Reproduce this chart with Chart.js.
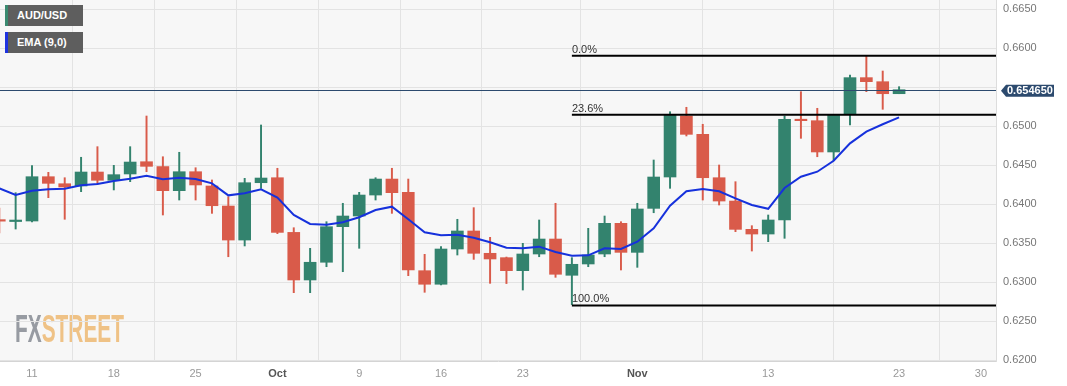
<!DOCTYPE html>
<html>
<head>
<meta charset="utf-8">
<script src="https://cdn.jsdelivr.net/npm/chart.js@4.4.0/dist/chart.umd.min.js"></script>
<style>
    body { margin: 0; background: #ffffff; }
    .wrap { position: relative; width: 1067px; height: 386px; }
    canvas { display: block; }
    .tag {
        position: absolute; left: 5px; width: 78px; height: 21px;
        background: #5e5e5e; color: #ffffff; font: bold 11px "Liberation Sans", Arial, sans-serif;
        line-height: 21px; padding-left: 9px; box-sizing: border-box; border-left: 3px solid #3a8a70;
    }
    .tag.ema { top: 32px; border-left-color: #1f33e0; }
</style>
</head>
<body>
<div class="wrap">
    <canvas id="candleChart" width="1067" height="386"></canvas>
    <div class="tag" style="top:5px">AUD/USD</div>
    <div class="tag ema">EMA (9,0)</div>
</div>
<script>
"use strict";

// dias de negociação (Sep 7 .. Dec 1)
const tradingDays = [
    "Sep 7", "Sep 8",
    "Sep 11", "Sep 12", "Sep 13", "Sep 14", "Sep 15",
    "Sep 18", "Sep 19", "Sep 20", "Sep 21", "Sep 22",
    "Sep 25", "Sep 26", "Sep 27", "Sep 28", "Sep 29",
    "Oct 2", "Oct 3", "Oct 4", "Oct 5", "Oct 6",
    "Oct 9", "Oct 10", "Oct 11", "Oct 12", "Oct 13",
    "Oct 16", "Oct 17", "Oct 18", "Oct 19", "Oct 20",
    "Oct 23", "Oct 24", "Oct 25", "Oct 26", "Oct 27",
    "Oct 30", "Oct 31", "Nov 1", "Nov 2", "Nov 3",
    "Nov 6", "Nov 7", "Nov 8", "Nov 9", "Nov 10",
    "Nov 13", "Nov 14", "Nov 15", "Nov 16", "Nov 17",
    "Nov 20", "Nov 21", "Nov 22", "Nov 23",
    "Nov 24", "Nov 27", "Nov 28", "Nov 29", "Nov 30", "Dec 1",
];

const openPrices = [
    0.63790, 0.63775,
    0.63782, 0.64350, 0.64260, 0.64231, 0.64410,
    0.64304, 0.64385, 0.64542, 0.64480, 0.64171,
    0.64414, 0.64231, 0.63974, 0.63538, 0.64273,
    0.64337, 0.63636, 0.63026, 0.63253, 0.63709,
    0.63846, 0.64115, 0.64320, 0.64150, 0.63145,
    0.62971, 0.63423, 0.63654, 0.63368, 0.63312,
    0.63145, 0.63359, 0.63551, 0.63086, 0.63231,
    0.63359, 0.63752, 0.63380, 0.63944, 0.64346,
    0.65128, 0.64893, 0.64337, 0.64038, 0.63675,
    0.63615, 0.63795, 0.65086, 0.65068, 0.64667,
    0.65154, 0.65620, 0.65568, 0.65414,
];
const highPrices = [
    0.63949, 0.64145,
    0.64491, 0.64406, 0.64337, 0.64599, 0.64735,
    0.64496, 0.64735, 0.65128, 0.64606, 0.64663,
    0.64465, 0.64308, 0.64094, 0.64329, 0.65013,
    0.64458, 0.63696, 0.63432, 0.63773, 0.64009,
    0.64150, 0.64337, 0.64458, 0.64320, 0.63355,
    0.63453, 0.63804, 0.63953, 0.63573, 0.63320,
    0.63496, 0.63795, 0.64009, 0.63312, 0.63688,
    0.63846, 0.63773, 0.64009, 0.64564, 0.65183,
    0.65240, 0.65022, 0.64500, 0.64286, 0.63722,
    0.63859, 0.65128, 0.65440, 0.65227, 0.65150,
    0.65654, 0.65897, 0.65705, 0.65504,
];
const lowPrices = [
    0.63628, 0.63679,
    0.63770, 0.64081, 0.63804, 0.64158, 0.64256,
    0.64180, 0.64286, 0.64414, 0.63859, 0.64051,
    0.64051, 0.63880, 0.63324, 0.63462, 0.64201,
    0.63620, 0.62863, 0.62863, 0.63196, 0.63132,
    0.63432, 0.64051, 0.63880, 0.63081, 0.62868,
    0.62962, 0.63346, 0.63290, 0.62983, 0.62980,
    0.62897, 0.63324, 0.63060, 0.62710, 0.63196,
    0.63324, 0.63154, 0.63188, 0.63888, 0.64201,
    0.64872, 0.64051, 0.63987, 0.63645, 0.63397,
    0.63517, 0.63560, 0.64842, 0.64606, 0.64555,
    0.65013, 0.65440, 0.65214, 0.65414,
];
const closePrices = [
    0.63780, 0.63782,
    0.64350, 0.64265, 0.64218, 0.64410, 0.64304,
    0.64376, 0.64538, 0.64483, 0.64171, 0.64414,
    0.64244, 0.63978, 0.63538, 0.64273, 0.64333,
    0.63636, 0.63026, 0.63253, 0.63709, 0.63846,
    0.64115, 0.64320, 0.64145, 0.63154, 0.62971,
    0.63423, 0.63654, 0.63368, 0.63295, 0.63145,
    0.63359, 0.63551, 0.63099, 0.63227, 0.63346,
    0.63752, 0.63380, 0.63936, 0.64346, 0.65141,
    0.64893, 0.64337, 0.64038, 0.63675, 0.63615,
    0.63795, 0.65086, 0.65068, 0.64667, 0.65141,
    0.65620, 0.65568, 0.65414, 0.65465,
];
const emaValues = [
    0.64201, 0.64115,
    0.64171, 0.64188, 0.64196, 0.64240, 0.64256,
    0.64295, 0.64324, 0.64363, 0.64317, 0.64337,
    0.64320, 0.64265, 0.64111, 0.64137, 0.64188,
    0.64083, 0.63859, 0.63744, 0.63735, 0.63765,
    0.63830, 0.63923, 0.63966, 0.63804, 0.63637,
    0.63599, 0.63607, 0.63568, 0.63509, 0.63440,
    0.63432, 0.63453, 0.63385, 0.63337, 0.63342,
    0.63432, 0.63423, 0.63517, 0.63688, 0.63978,
    0.64163, 0.64192, 0.64163, 0.64073, 0.63987,
    0.63938, 0.64205, 0.64350, 0.64414, 0.64555,
    0.64778, 0.64927, 0.65022, 0.65111,
];

const xTickDays = ["Sep 11", "Sep 18", "Sep 25", "Oct 2", "Oct 9", "Oct 16", "Oct 23", "Nov 1", "Nov 13", "Nov 23", "Nov 30"];
const xTickLabels = ["11", "18", "25", "Oct", "9", "16", "23", "Nov", "13", "23", "30"];
const yTicks = [0.62, 0.625, 0.63, 0.635, 0.64, 0.645, 0.65, 0.655, 0.66, 0.665];

const lastPrice = 0.65465;
const fibHigh = 0.6590;
const fibLow = 0.6270;
const fibLevels = [0, 23.6, 100];
const fibStartDay = "Oct 26";

const verde = "#33836e";
const vermelho = "#d95b4a";
const azulEma = "#1631dc";
const azulPreco = "#2c4a6e";
const fonte = "'Liberation Sans', Arial, sans-serif";

const dayPos = (d) => tradingDays.indexOf(d);
const candleColors = openPrices.map((o, i) => (closePrices[i] >= o ? verde : vermelho));
const wickData = lowPrices.map((l, i) => ({ x: i, y: [l, highPrices[i]] }));
const bodyData = openPrices.map((o, i) => ({ x: i, y: [o, closePrices[i]] }));
const emaData = emaValues.map((v, i) => ({ x: i, y: v }));

const fundoEMarca = {
    id: "fundoEMarca",
    beforeDraw(chart) {
        const { ctx, chartArea: a } = chart;
        ctx.save();
        ctx.fillStyle = "#f7f7f7";
        ctx.fillRect(a.left, a.top, a.right - a.left, a.bottom - a.top);

        ctx.font = `bold 39px ${fonte}`;
        const wFx = ctx.measureText("FX").width;
        const wAll = ctx.measureText("FXSTREET").width;
        ctx.translate(15, 342);
        ctx.scale(109 / wAll, 1);
        ctx.textBaseline = "alphabetic";
        ctx.fillStyle = "#979ba2";
        ctx.fillText("FX", 0, 0);
        ctx.fillStyle = "#efc286";
        ctx.fillText("STREET", wFx, 0);
        ctx.restore();
    },
};

const fibonacci = {
    id: "fibonacci",
    afterDatasetsDraw(chart) {
        const { ctx, chartArea: a, scales } = chart;
        const x0 = scales.x.getPixelForValue(dayPos(fibStartDay));
        ctx.save();

        // linha do preço atual
        const yp = Math.round(scales.y.getPixelForValue(lastPrice)) + 0.5;
        ctx.strokeStyle = azulPreco;
        ctx.lineWidth = 1;
        ctx.beginPath();
        ctx.moveTo(a.left, yp);
        ctx.lineTo(a.right, yp);
        ctx.stroke();

        ctx.font = `11px ${fonte}`;
        ctx.textBaseline = "alphabetic";
        ctx.textAlign = "left";
        fibLevels.forEach((lvl) => {
            const preco = fibHigh - (lvl / 100) * (fibHigh - fibLow);
            const y = scales.y.getPixelForValue(preco);
            ctx.strokeStyle = "#000000";
            ctx.lineWidth = 2;
            ctx.beginPath();
            ctx.moveTo(x0, y);
            ctx.lineTo(a.right, y);
            ctx.stroke();
            ctx.fillStyle = "#333333";
            ctx.fillText(`${lvl.toFixed(1)}%`, x0, y - 3);
        });
        ctx.restore();
    },
    afterDraw(chart) {
        const { ctx, scales } = chart;
        const y = scales.y.getPixelForValue(lastPrice) + 1;
        ctx.save();
        ctx.fillStyle = azulPreco;
        ctx.beginPath();
        ctx.moveTo(1001, y);
        ctx.lineTo(1006, y - 6);
        ctx.lineTo(1054, y - 6);
        ctx.lineTo(1054, y + 6);
        ctx.lineTo(1006, y + 6);
        ctx.closePath();
        ctx.fill();
        ctx.fillStyle = "#ffffff";
        ctx.font = `bold 11px ${fonte}`;
        ctx.textBaseline = "middle";
        ctx.fillText(lastPrice.toFixed(6), 1007, y + 0.5);
        ctx.restore();
    },
};

const ctxCandle = document.getElementById("candleChart");
const pxPorDia = 16.36;
const posSep11 = dayPos("Sep 11");

const candleChart = new Chart(ctxCandle, {
    type: "bar",
    data: {
        datasets: [
            {
                type: "line",
                label: "EMA (9,0)",
                data: emaData,
                borderColor: azulEma,
                borderWidth: 2,
                pointRadius: 0,
                tension: 0,
                order: 0,
            },
            {
                label: "corpo",
                data: bodyData,
                backgroundColor: candleColors,
                barThickness: 12,
                minBarLength: 1.5,
                grouped: false,
                order: 1,
            },
            {
                label: "pavio",
                data: wickData,
                backgroundColor: candleColors,
                barThickness: 1.3,
                grouped: false,
                order: 2,
            },
        ],
    },
    options: {
        responsive: false,
        devicePixelRatio: 1,
        animation: false,
        layout: { padding: 0 },
        plugins: {
            legend: { display: false },
            tooltip: { enabled: false },
        },
        scales: {
            x: {
                type: "linear",
                offset: false,
                min: posSep11 - 32 / pxPorDia,
                max: posSep11 + (996 - 32) / pxPorDia,
                afterBuildTicks: (scale) => {
                    scale.ticks = xTickDays.map((d) => ({ value: dayPos(d) }));
                },
                afterFit: (scale) => {
                    scale.height = 25;
                    scale.paddingLeft = 0;
                    scale.paddingRight = 0;
                },
                grid: { color: "#e3e3e3", drawTicks: false },
                border: { color: "#d4d4d4" },
                ticks: {
                    padding: 6,
                    autoSkip: false,
                    maxRotation: 0,
                    callback: (v) => xTickLabels[xTickDays.indexOf(tradingDays[v])],
                    color: (c) => (c.index === 3 || c.index === 7 ? "#555555" : "#999999"),
                    font: (c) => ({ family: fonte, size: 11, weight: c.index === 3 || c.index === 7 ? "bold" : "normal" }),
                },
            },
            y: {
                position: "right",
                min: 0.62 - 1 / 7800,
                max: 0.665 + 9 / 7800,
                afterBuildTicks: (scale) => {
                    scale.ticks = yTicks.map((v) => ({ value: v }));
                },
                afterFit: (scale) => {
                    scale.width = 71;
                    scale.paddingTop = 0;
                    scale.paddingBottom = 0;
                },
                grid: { color: "#e3e3e3", drawTicks: false },
                border: { color: "#dddddd" },
                ticks: {
                    padding: 7,
                    color: "#777777",
                    font: { family: fonte, size: 11 },
                    // o rótulo sob a etiqueta de preço fica escondido
                    callback: (v) => (Math.abs(v - lastPrice) < 0.001 ? "" : Number(v).toFixed(4)),
                },
            },
        },
    },
    plugins: [fundoEMarca, fibonacci],
});
</script>
</body>
</html>
